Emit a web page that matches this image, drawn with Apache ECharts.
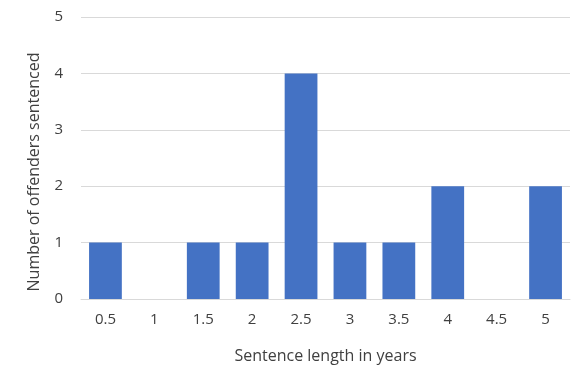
<!DOCTYPE html>
<html>
<head>
<meta charset="utf-8">
<script src="https://cdn.jsdelivr.net/npm/echarts@6/dist/echarts.min.js"></script>
<style>
  html, body { margin: 0; padding: 0; background: #fff; }
  #main { width: 577px; height: 369px; }
</style>
</head>
<body>
<div id="main"></div>
<script>
// sentence lengths (years) and number of offenders
const categories = ["0.5", "1", "1.5", "2", "2.5", "3", "3.5", "4", "4.5", "5"];
const offenders = [1, 0, 1, 1, 4, 1, 1, 2, 0, 2];
const yTicks = [0, 1, 2, 3, 4, 5];

const chart = echarts.init(document.getElementById("main"));
const font = "'Open Sans', 'Noto Sans', sans-serif";

const option = {
  animation: false,
  textStyle: { fontFamily: font },
  grid: { left: 81, right: 7, top: 17, bottom: 70 },
  xAxis: {
    type: "category",
    data: categories,
    name: "Sentence length in years",
    nameLocation: "middle",
    nameGap: 49,
    nameTextStyle: { color: "#404040", fontSize: 16, fontFamily: font },
    axisLine: { lineStyle: { color: "#d9d9d9", width: 1 } },
    axisTick: { show: false },
    axisLabel: { color: "#404040", fontSize: 15, margin: 13, fontFamily: font }
  },
  yAxis: {
    type: "value",
    min: yTicks[0],
    max: yTicks[yTicks.length - 1],
    interval: 1,
    name: "Number of offenders sentenced",
    nameLocation: "middle",
    nameGap: 39,
    // the title sits a little below the middle of the axis
    nameTextStyle: { color: "#404040", fontSize: 16, fontFamily: font, padding: [0, 28, 0, 0] },
    axisLine: { show: false },
    axisTick: { show: false },
    axisLabel: { color: "#404040", fontSize: 15, margin: 18, fontFamily: font },
    splitLine: { lineStyle: { color: "#d9d9d9", width: 1 } }
  },
  series: [
    {
      type: "bar",
      data: offenders,
      barCategoryGap: "33%",
      itemStyle: { color: "#4472c4" }
    }
  ]
};
chart.setOption(option);
</script>
</body>
</html>
